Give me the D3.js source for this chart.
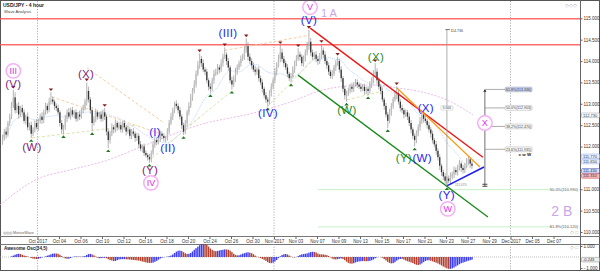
<!DOCTYPE html>
<html>
<head>
<meta charset="utf-8">
<script src="https://cdn.jsdelivr.net/npm/d3@7/dist/d3.min.js"></script>
<style>
body { margin: 0; background: #fff; }
svg { display: block; font-family: "Liberation Sans", Arial, sans-serif; }
</style>
</head>
<body>
<svg width="600" height="272"></svg>
<script>
var svg = d3.select("svg");

// 4 hour candles, k = candle number counted from Oct 2 00:00 (6 per trading day)
var firstK = -20;
var firstOpen = 112.12;
var closes = [
  112.20,112.35,112.28,112.55,112.70,112.95,
  113.15,112.85,112.95,112.75,112.90,112.80,
  112.60,112.70,112.45,112.50,112.30,112.40,
  112.55,112.45,112.60,112.70,112.62,112.80,
  112.95,112.85,113.05,113.10,113.05,112.95,
  112.90,112.80,112.55,112.40,112.45,112.65,
  112.80,112.70,112.85,112.75,112.80,112.65,
  112.75,112.70,112.85,112.90,113.05,113.30,
  113.10,112.85,112.55,112.65,112.80,112.70,
  112.75,112.65,112.80,112.70,112.35,112.15,
  112.30,112.45,112.40,112.55,112.45,112.50,
  112.40,112.55,112.45,112.35,112.40,112.25,
  112.35,112.30,112.20,112.25,112.05,111.95,
  112.00,111.85,111.80,111.75,111.70,111.85,
  112.05,112.15,112.10,112.20,112.30,112.25,
  112.20,112.20,112.35,112.55,112.70,112.85,
  113.00,112.95,112.85,112.70,112.50,112.35,
  112.55,112.80,112.95,113.15,113.30,113.45,
  113.70,113.90,114.05,113.95,113.80,113.75,
  113.55,113.40,113.35,113.55,113.70,113.75,
  113.85,113.80,113.95,114.10,114.15,114.00,
  113.85,113.55,113.45,113.60,113.75,113.85,
  113.95,114.05,114.10,114.25,114.35,114.10,
  114.00,113.90,113.80,113.75,113.80,113.60,
  113.50,113.35,113.20,113.10,113.05,113.25,
  113.40,113.55,113.75,113.90,114.05,114.20,
  114.05,113.95,113.85,113.70,113.60,113.65,
  113.80,113.95,114.05,114.15,114.10,113.95,
  114.05,114.20,114.35,114.45,114.20,114.10,
  114.15,114.05,114.00,114.10,114.25,114.15,
  114.00,113.90,113.75,113.65,113.70,113.85,
  113.95,114.00,113.80,113.60,113.35,113.20,
  113.25,113.30,113.40,113.35,113.45,113.50,
  113.45,113.40,113.35,113.40,113.30,113.35,
  113.30,113.45,113.55,113.70,113.75,113.55,
  113.40,113.30,113.10,112.95,112.75,112.60,
  112.80,112.95,113.10,113.20,113.25,113.05,
  112.90,112.85,112.75,112.80,112.70,112.55,
  112.40,112.25,112.15,112.30,112.45,112.60,
  112.75,112.65,112.60,112.50,112.40,112.30,
  112.15,112.05,111.90,111.75,111.55,111.40,
  111.30,111.20,111.25,111.20,111.30,111.35,
  111.45,111.40,111.50,111.60,111.50,111.45,
  111.55,111.65,111.70,111.60,111.55
];
// wick lengths above / below the body, in pips
var wickUp = [
  8,6,10,5,7,9, 18,12,6,9,5,8, 7,5,10,6,8,5, 6,9,5,7,10,6, 8,6,9,17,7,5,
  6,8,5,7,6,9, 7,10,6,8,5,7, 6,9,5,8,7,20, 10,6,8,7,9,5, 6,8,7,10,5,6,
  7,9,6,8,5,7, 8,5,7,6,9,5, 6,8,5,7,6,8, 5,7,6,5,8,6, 7,10,6,8,7,5,
  6,5,8,7,9,6, 5,8,6,7,5,6, 7,6,9,8,7,10, 8,10,13,7,9,6, 7,5,8,6,9,7,
  8,6,9,7,17,6, 7,5,8,6,9,7, 6,8,7,10,18,9, 8,6,7,9,5,8, 6,7,5,8,6,7,
  8,6,9,7,10,17, 9,7,6,8,5,7, 8,6,9,15,7,6, 8,7,10,28,9,7, 6,8,7,9,15,7,
  8,6,7,5,9,6, 7,10,6,8,5,7, 6,8,7,9,6,8, 7,5,8,6,7,5, 6,8,7,9,20,8,
  7,6,8,5,7,6, 8,7,6,9,16,7, 6,8,5,7,6,8, 7,5,6,8,7,9, 10,6,8,5,7,6,
  7,5,8,6,7,5, 6,8,5,7,9,6, 8,6,7,9,5,7, 6,8,7,5,6
];
var wickDn = [
  8,6,9,5,7,6, 5,8,7,10,6,8, 6,9,7,8,10,6, 7,5,8,6,9,7, 6,8,5,7,6,9,
  7,6,8,10,11,6, 8,5,7,6,9,7, 6,8,5,7,6,9, 7,8,19,6,8,7, 5,7,6,8,9,19,
  8,6,9,7,8,6, 7,8,6,9,5,7, 8,6,9,7,8,6, 9,7,6,8,8,7, 6,8,7,5,9,7,
  8,10,6,7,5,8, 7,6,8,7,9,8, 6,9,7,5,8,6, 7,5,8,9,6,8, 7,9,10,6,8,5,
  7,9,6,8,5,9, 8,7,12,6,9,7, 6,8,5,7,6,9, 7,8,6,9,7,8, 6,9,7,8,11,7,
  8,6,7,9,5,8, 7,9,6,8,7,10, 6,8,7,5,9,7, 8,6,7,9,8,7, 6,8,9,7,5,8,
  7,9,8,6,7,5, 8,6,7,9,8,10, 15,7,6,8,7,5, 8,6,7,5,9,7, 10,6,8,7,5,9,
  7,8,6,9,7,17, 6,8,7,5,9,7, 8,7,9,6,8,7, 9,8,15,7,6,8, 7,9,6,8,7,9,
  8,7,9,8,10,9, 8,7,13,6,8,7, 9,7,8,6,9,8, 7,6,8,9,7
];

// time axis, in trading days from Oct 2
var tickDays = [0,2,4,6,8,10,12,14,16,18,20,22,24,26,28,30,32,34,36,38,40,42,44,46,48];
var tickLabels = ["Oct 2017","Oct 04","Oct 06","Oct 10","Oct 12","Oct 16","Oct 18","Oct 20",
  "Oct 24","Oct 26","Oct 30","Nov 2017","Nov 03","Nov 07","Nov 09","Nov 13","Nov 15",
  "Nov 17","Nov 21","Nov 23","Nov 27","Nov 29","Dec 2017","Dec 05","Dec 07"];
var monthDays = [0, 22, 44];
// 111.500 sits under the live price boxes, so it is not labelled
var priceTicks = [110, 110.5, 111, 112, 112.5, 113, 113.5, 114, 114.5, 115];

var resistance = [114.99, 114.38];
var pivotHighs = [-14, 7, 27, 37, 90, 104, 116, 135, 145, 151, 158, 167, 188, 200];
var pivotLows = [-4, 14, 30, 39, 62, 81, 96, 108, 128, 141, 172, 184, 195, 210, 228];

// wave labels: text, candle, price, degree
var waves = [
  ["III", -14, 113.77, "circle"], ["(V)", -14, 113.46, "minor"],
  ["(W)", -3.6, 111.99, "minor"], ["(X)", 26.6, 113.70, "minor"],
  ["(Y)", 62.3, 111.45, "minor"], ["IV", 62.8, 111.15, "circle"],
  ["(I)", 65.1, 112.34, "minute"], ["(II)", 72.3, 111.96, "minute"],
  ["(III)", 105.8, 114.66, "minute"], ["(IV)", 128.1, 112.78, "minute"],
  ["(V)", 151, 114.96, "minute"], ["V", 151.6, 115.26, "circle"],
  ["(W)", 172.2, 112.85, "sub"], ["(X)", 188.4, 114.09, "sub"],
  ["(Y)", 204.0, 111.73, "sub"], ["(W)", 214.2, 111.73, "minute"],
  ["(X)", 216.2, 112.90, "minute"], ["(Y)", 227.9, 110.87, "minute"],
  ["W", 228.5, 110.54, "circle"], ["X", 249.2, 112.55, "circle"]
];
var degreeLabels = [["1 A", 162.2, 115.12, 11], ["2 B", 292.1, 110.49, 14]];

// trend lines: k1, p1, k2, p2, kind
var trendLines = [
  [151.7, 114.77, 248.1, 111.75, "upper"],
  [200.1, 113.37, 246.4, 111.52, "inner"],
  [144.9, 113.67, 250.9, 110.35, "lower"],
  [228.0, 111.08, 248.7, 111.52, "support"]
];
// faint wave helper lines
var helperLines = [
  [7.6, 113.16, 69.5, 112.28, "tan"], [27.1, 113.84, 69.5, 112.57, "tan"],
  [-3.6, 112.20, 55, 112.50, "olive"], [63.4, 111.73, 90.2, 112.69, "olive"],
  [84.6, 112.50, 108.6, 113.32, "olive"], [127.6, 112.92, 154.4, 114.07, "olive"],
  [172.2, 113.09, 190.6, 113.28, "olive"], [104, 114.25, 151, 114.60, "tan"]
];
// slow moving average read at a few days
var slowMaDays = [-3.5, 0, 3, 6, 10.5, 15, 20.5, 23.5, 26.5, 29, 31.5, 33.5, 36.5, 38.5, 40.5];
var slowMaVals = [110.63, 111.24, 111.45, 111.64, 112.08, 112.50, 112.81, 113.04, 113.32, 113.42, 113.44, 113.37, 113.23, 113.04, 112.74];

var fibLow = 111.07, fibHigh = 114.736, fibRatios = [0.236, 0.382, 0.5, 0.618];
var fibK = 249.2, fibLabelK = 260.5, swingK = 228;
var targetLevels = [[110.99, "50.0%"], [110.12, "61.8%"]];
var targetStartK = 156;
var axisMarks = [[112.73, "ma"], [111.77, "line"], [111.65, "line"], [111.43, "close"], [111.31, "bid"]];

// ---------------- scales
var x = d3.scaleLinear().domain([-3.488, 50.465]).range([0, 580]);
var y = d3.scaleLinear().domain([110, 115]).range([232, 18.3]);
var yo = d3.scaleLinear().domain([-1, 1]).range([268, 246]);
function kx(k) { return x((k + 0.5) / 6); }

var candles = closes.map(function(c, i) {
  var o = i ? closes[i - 1] : firstOpen;
  return {k: i + firstK, o: o, c: c,
    h: Math.max(o, c) + wickUp[i] / 100,
    l: Math.min(o, c) - wickDn[i] / 100};
});
var byK = {};
candles.forEach(function(d) { byK[d.k] = d; });

function sma(arr, i, n) {
  var s = 0, c = 0;
  for (var j = Math.max(0, i - n + 1); j <= i; j++) { s += arr[j]; c++; }
  return s / c;
}

var defs = svg.append("defs");
defs.append("clipPath").attr("id", "mainClip").append("rect")
  .attr("x", 0).attr("y", 1).attr("width", 580).attr("height", 235);
defs.append("clipPath").attr("id", "oscClip").append("rect")
  .attr("x", 0).attr("y", 244).attr("width", 580).attr("height", 26);

// frames
svg.append("rect").attr("x", 0.5).attr("y", 0.5).attr("width", 599).attr("height", 270)
  .attr("fill", "#fff").attr("stroke", "#555");
svg.append("line").attr("x1", 0).attr("x2", 600).attr("y1", 236.5).attr("y2", 236.5).attr("stroke", "#777");
svg.append("line").attr("x1", 0).attr("x2", 600).attr("y1", 244.5).attr("y2", 244.5).attr("stroke", "#777");

// month separators
svg.append("g").selectAll("line").data(monthDays).enter().append("line")
  .attr("x1", function(d) { return x(d); }).attr("x2", function(d) { return x(d); })
  .attr("y1", 1).attr("y2", 270)
  .attr("stroke", "#9a9a9a").attr("stroke-width", 0.8).attr("stroke-dasharray", "1.2,1.5");

var main = svg.append("g").attr("clip-path", "url(#mainClip)");

// resistance lines
main.selectAll("line.res").data(resistance).enter().append("line")
  .attr("x1", 0).attr("x2", 580)
  .attr("y1", function(d) { return y(d); }).attr("y2", function(d) { return y(d); })
  .attr("stroke", "#ff5555").attr("stroke-opacity", 0.85).attr("stroke-width", 1.5);

// target fib levels
targetLevels.forEach(function(t) {
  main.append("line").attr("x1", kx(targetStartK)).attr("x2", 580)
    .attr("y1", y(t[0])).attr("y2", y(t[0]))
    .attr("stroke", "#b8ecb8").attr("stroke-width", 0.8);
  var lbl = t[1] + "(" + t[0].toFixed(3) + ")";
  main.append("rect").attr("x", 552).attr("y", y(t[0]) - 2.3).attr("width", 27).attr("height", 4.6)
    .attr("fill", "#fff");
  main.append("text").attr("x", 578).attr("y", y(t[0]) + 1.4).attr("text-anchor", "end")
    .attr("font-size", 4).attr("fill", "#555").text(lbl);
});

// slow MA
main.append("path")
  .datum(slowMaDays.map(function(d, i) { return [d, slowMaVals[i]]; }))
  .attr("d", d3.line().x(function(d) { return x(d[0]); }).y(function(d) { return y(d[1]); }).curve(d3.curveMonotoneX))
  .attr("fill", "none").attr("stroke", "#e6a8e6").attr("stroke-width", 0.8).attr("stroke-dasharray", "2,1.5");

// fast MA from closes
main.append("path")
  .datum(candles.map(function(d, i) { return [d.k, sma(closes, i, 21)]; }))
  .attr("d", d3.line().x(function(d) { return kx(d[0]); }).y(function(d) { return y(d[1]); }))
  .attr("fill", "none").attr("stroke", "#a8c4f4").attr("stroke-width", 0.8).attr("stroke-dasharray", "1,1");

// helper lines
var helperColor = {tan: "#f2c998", olive: "#d9dea4"};
main.selectAll("line.help").data(helperLines).enter().append("line")
  .attr("x1", function(d) { return kx(d[0]); }).attr("y1", function(d) { return y(d[1]); })
  .attr("x2", function(d) { return kx(d[2]); }).attr("y2", function(d) { return y(d[3]); })
  .attr("stroke", function(d) { return helperColor[d[4]]; })
  .attr("stroke-width", 0.9).attr("stroke-dasharray", "3,2");

// candles
var cg = main.append("g");
cg.selectAll("line").data(candles).enter().append("line")
  .attr("x1", function(d) { return kx(d.k); }).attr("x2", function(d) { return kx(d.k); })
  .attr("y1", function(d) { return y(d.h); }).attr("y2", function(d) { return y(d.l); })
  .attr("stroke", "#808080").attr("stroke-width", 0.6);
cg.selectAll("rect").data(candles).enter().append("rect")
  .attr("x", function(d) { return kx(d.k) - 0.65; })
  .attr("width", 1.3)
  .attr("y", function(d) { return y(Math.max(d.o, d.c)); })
  .attr("height", function(d) { return Math.max(0.6, Math.abs(y(d.o) - y(d.c))); })
  .attr("fill", function(d) { return d.c >= d.o ? "#bdbdbd" : "#333"; });

// pivot markers
main.selectAll("path.ph").data(pivotHighs).enter().append("path")
  .attr("d", function(k) {
    var cx = kx(k), cy = y(byK[k].h) - 1.2;
    return "M" + (cx - 2.2) + "," + (cy - 2.6) + "L" + (cx + 2.2) + "," + (cy - 2.6) + "L" + cx + "," + cy + "Z";
  })
  .attr("fill", "#8a1c1c");
main.selectAll("path.pl").data(pivotLows).enter().append("path")
  .attr("d", function(k) {
    var cx = kx(k), cy = y(byK[k].l) + 1.2;
    return "M" + (cx - 2.2) + "," + (cy + 2.6) + "L" + (cx + 2.2) + "," + (cy + 2.6) + "L" + cx + "," + cy + "Z";
  })
  .attr("fill", "#1f7a1f");

// trend lines
var trendStyle = {upper: ["#ee1515", 1.4], inner: ["#ff9a10", 1.2], lower: ["#178a17", 1.3], support: ["#1a1aff", 1.5]};
main.selectAll("line.trend").data(trendLines).enter().append("line")
  .attr("x1", function(d) { return kx(d[0]); }).attr("y1", function(d) { return y(d[1]); })
  .attr("x2", function(d) { return kx(d[2]); }).attr("y2", function(d) { return y(d[3]); })
  .attr("stroke", function(d) { return trendStyle[d[4]][0]; })
  .attr("stroke-width", function(d) { return trendStyle[d[4]][1]; });

// swing measure from the (V) high down to the (Y) low
var sx = kx(swingK);
main.append("line").attr("x1", sx).attr("x2", sx).attr("y1", y(fibHigh)).attr("y2", y(fibLow))
  .attr("stroke", "#999").attr("stroke-width", 0.8);
main.append("line").attr("x1", sx - 1.5).attr("x2", sx + 3).attr("y1", y(fibHigh)).attr("y2", y(fibHigh))
  .attr("stroke", "#555").attr("stroke-width", 0.8);
main.append("text").attr("x", sx + 3.5).attr("y", y(fibHigh) + 2.6).attr("font-size", 3.6).attr("fill", "#444")
  .text(fibHigh.toFixed(3));
main.append("rect").attr("x", sx - 6).attr("y", y((fibHigh + fibLow) / 2) - 2.2).attr("width", 12).attr("height", 4.4)
  .attr("rx", 1).attr("fill", "#fff").attr("stroke", "#aaa").attr("stroke-width", 0.4);
main.append("text").attr("x", sx).attr("y", y((fibHigh + fibLow) / 2) + 1.3).attr("text-anchor", "middle")
  .attr("font-size", 3.5).attr("fill", "#555").text((fibHigh - fibLow).toFixed(3));
main.append("text").attr("x", sx + 8).attr("y", y(fibLow) - 0.5).attr("font-size", 3.4).attr("fill", "#888")
  .text(fibLow.toFixed(3));

// fibonacci retracement of the swing
var fx = kx(fibK), flx = kx(fibLabelK);
var fibTop = fibLow + (fibHigh - fibLow) * fibRatios[fibRatios.length - 1];
main.append("line").attr("x1", fx).attr("x2", fx).attr("y1", y(fibTop)).attr("y2", y(fibLow))
  .attr("stroke", "#333").attr("stroke-width", 0.7);
main.append("path").attr("d", "M" + (fx - 1.6) + "," + (y(fibTop) + 2.2) + "L" + fx + "," + y(fibTop) + "L" + (fx + 1.6) + "," + (y(fibTop) + 2.2) + "Z")
  .attr("fill", "#222");
main.append("line").attr("x1", fx - 2.5).attr("x2", fx + 2.5).attr("y1", y(fibLow)).attr("y2", y(fibLow))
  .attr("stroke", "#222").attr("stroke-width", 0.8);
main.append("line").attr("x1", fx - 2.5).attr("x2", fx + 2.5).attr("y1", y(fibLow) - 2).attr("y2", y(fibLow) - 2)
  .attr("stroke", "#222").attr("stroke-width", 0.8);
fibRatios.forEach(function(r, i) {
  var p = fibLow + (fibHigh - fibLow) * r;
  main.append("line").attr("x1", fx).attr("x2", flx).attr("y1", y(p)).attr("y2", y(p))
    .attr("stroke", "#888").attr("stroke-width", 0.7);
  main.append("rect").attr("x", flx).attr("y", y(p) - 2.4).attr("width", 27).attr("height", 4.8).attr("rx", 1.2)
    .attr("fill", i === fibRatios.length - 1 ? "#c5d0f2" : "#fafafa").attr("stroke", "#a0a0a0").attr("stroke-width", 0.4);
  main.append("text").attr("x", flx + 13.5).attr("y", y(p) + 1.4).attr("text-anchor", "middle")
    .attr("font-size", 3.6).attr("fill", "#444").text((r * 100).toFixed(1) + "%(" + p.toFixed(3) + ")");
});
main.append("text").attr("x", kx(271.5)).attr("y", y(111.78)).attr("text-anchor", "middle")
  .attr("font-size", 4.4).attr("font-weight", "bold").attr("fill", "#222").text("x w W");

// wave labels
var waveColor = {minor: "#7d1f7d", minute: "#2626f0", sub: "#1f8a1f"};
waves.forEach(function(w) {
  var cx = kx(w[1]), cy = y(w[2]);
  if (w[3] === "circle") {
    main.append("circle").attr("cx", cx).attr("cy", cy).attr("r", 7.2)
      .attr("fill", "#fff").attr("stroke", "#f6aef6").attr("stroke-width", 1.5);
    main.append("text").attr("x", cx).attr("y", cy).attr("dy", "0.36em").attr("text-anchor", "middle")
      .attr("font-size", 9).attr("fill", "#e52be5").text(w[0]);
  } else {
    main.append("text").attr("x", cx).attr("y", cy).attr("dy", "0.36em").attr("text-anchor", "middle")
      .attr("font-size", 11.5).attr("letter-spacing", 0.3).attr("fill", waveColor[w[3]]).text(w[0]);
  }
});
degreeLabels.forEach(function(d) {
  main.append("text").attr("x", kx(d[1])).attr("y", y(d[2])).attr("dy", "0.36em").attr("text-anchor", "middle")
    .attr("font-size", d[3]).attr("fill", "#c9a6ea").attr("xml:space", "preserve").text(d[0]);
});

// titles
svg.append("text").attr("x", 3).attr("y", 6.5).attr("font-size", 5).attr("font-weight", "bold").attr("fill", "#222")
  .text("USD/JPY - 4 hour");
svg.append("text").attr("x", 4).attr("y", 12.5).attr("font-size", 4.2).attr("fill", "#444").text("Wave Analysis");
svg.append("text").attr("x", 3).attr("y", 233.5).attr("font-size", 3.8).attr("fill", "#666").text("◎◎◎ MotiveWave");
svg.append("text").attr("x", 577).attr("y", 7).attr("text-anchor", "end").attr("font-size", 5).attr("fill", "#aaa").text("◇◇◇");
svg.append("text").attr("x", 578).attr("y", 234).attr("text-anchor", "end").attr("font-size", 4.5).attr("fill", "#aaa").text("◇ □");
svg.append("text").attr("x", 578).attr("y", 249).attr("text-anchor", "end").attr("font-size", 4.5).attr("fill", "#aaa").text("◇ □");

// time axis
var xAxis = svg.append("g").attr("transform", "translate(0,236.5)")
  .call(d3.axisBottom(x).tickValues(tickDays).tickSize(2.5).tickPadding(1)
    .tickFormat(function(d, i) { return tickLabels[i]; }));
xAxis.select(".domain").remove();
xAxis.selectAll("line").attr("stroke", "#666");
xAxis.selectAll("text").attr("font-size", 4.5).attr("fill", "#333").attr("font-family", null);

// price axis
svg.append("line").attr("x1", 580.5).attr("x2", 580.5).attr("y1", 0).attr("y2", 270).attr("stroke", "#666");
var yAxis = svg.append("g").attr("transform", "translate(580.5,0)")
  .call(d3.axisRight(y).tickValues(priceTicks).tickSize(2).tickPadding(1).tickFormat(d3.format(".3f")));
yAxis.select(".domain").remove();
yAxis.selectAll("line").attr("stroke", "#666");
yAxis.selectAll("text").attr("font-size", 4.5).attr("fill", "#333").attr("font-family", null);

var markStyle = {ma: ["#fff", "#999", "#333"], line: ["#eef2ff", "#8ea6ea", "#334"], close: ["#dfe5ff", "#3344aa", "#223"], bid: ["#f2bcbc", "#d04444", "#611"]};
axisMarks.forEach(function(m) {
  var st = markStyle[m[1]];
  svg.append("rect").attr("x", 581.5).attr("y", y(m[0]) - 2.3).attr("width", 18).attr("height", 4.6).attr("rx", 0.8)
    .attr("fill", st[0]).attr("stroke", st[1]).attr("stroke-width", 0.5);
  svg.append("text").attr("x", 583).attr("y", y(m[0]) + 1.4).attr("font-size", 4).attr("fill", st[2]).text(m[0].toFixed(3));
});

// awesome oscillator from the candles
var med = candles.map(function(d) { return (d.h + d.l) / 2; });
var ao = med.map(function(m, i) { return sma(med, i, 5) - sma(med, i, 34); });
var osc = svg.append("g").attr("clip-path", "url(#oscClip)");
osc.append("line").attr("x1", 0).attr("x2", 580).attr("y1", yo(0)).attr("y2", yo(0))
  .attr("stroke", "#999").attr("stroke-width", 0.6).attr("stroke-dasharray", "1,1");
osc.selectAll("rect").data(candles).enter().append("rect")
  .attr("x", function(d) { return kx(d.k) - 0.7; })
  .attr("width", 1.4)
  .attr("y", function(d, i) { return Math.min(yo(0), yo(ao[i])); })
  .attr("height", function(d, i) { return Math.abs(yo(ao[i]) - yo(0)); })
  .attr("fill", function(d, i) { return (i === 0 || ao[i] >= ao[i - 1]) ? "#3d3df2" : "#b2412f"; });
svg.append("text").attr("x", 4).attr("y", 250).attr("font-size", 4.6).attr("font-weight", "bold").attr("fill", "#222")
  .text("Awesome Osc(34,5)");

var oAxis = svg.append("g").attr("transform", "translate(580.5,0)")
  .call(d3.axisRight(yo).tickValues([1, -1]).tickSize(2).tickPadding(1).tickFormat(d3.format(".3f")));
oAxis.select(".domain").remove();
oAxis.selectAll("line").attr("stroke", "#666");
oAxis.selectAll("text").attr("font-size", 4.5).attr("fill", "#333").attr("font-family", null);
var lastAo = ao[ao.length - 1];
svg.append("rect").attr("x", 581.5).attr("y", yo(lastAo) - 2.3).attr("width", 18).attr("height", 4.6).attr("rx", 0.8)
  .attr("fill", "#eee").attr("stroke", "#888").attr("stroke-width", 0.5);
svg.append("text").attr("x", 583).attr("y", yo(lastAo) + 1.4).attr("font-size", 4).attr("fill", "#333").text(lastAo.toFixed(3));
</script>
</body>
</html>
